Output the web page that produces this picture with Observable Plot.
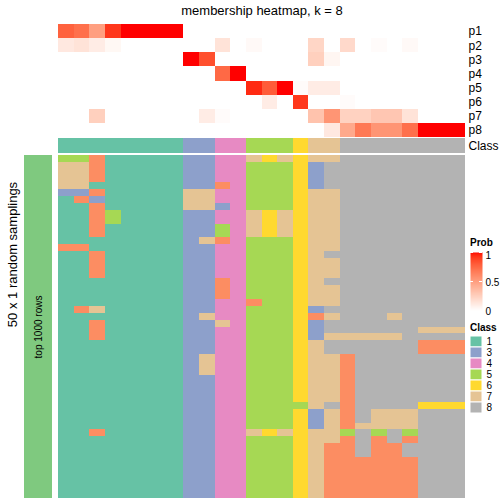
<!DOCTYPE html>
<html>
<head>
<meta charset="utf-8">
<script src="https://cdn.jsdelivr.net/npm/d3@7"></script>
<script src="https://cdn.jsdelivr.net/npm/@observablehq/plot@0.6"></script>
<style>
html, body { margin: 0; padding: 0; background: #ffffff; }
#root { position: relative; width: 504px; height: 504px; overflow: hidden; }
#root > svg { position: absolute; left: 0; top: 0; }
</style>
</head>
<body>
<div id="root"></div>
<script>
const FONT = '"Liberation Sans", Arial, Helvetica, sans-serif';

// ---------- data ----------
const titleText = "membership heatmap, k = 8";
const sideTitle = "50 x 1 random samplings";
const groupLabel = "top 1000 rows";
const columns = d3.range(26);
const columnClass = [1,1,1,1,1,1,1,1, 3,3, 4,4, 5,5,5, 6, 7,7, 8,8,8,8,8,8,8,8];
const probLabels = ["p1","p2","p3","p4","p5","p6","p7","p8"];
const p1 = [0.78,0.72,0.5,0.92,1,1,1,1, 0,0, 0,0, 0,0,0, 0, 0,0, 0,0,0,0,0,0,0,0];
const p2 = [0.12,0.15,0.1,0.04,0,0,0,0, 0,0, 0.15,0, 0.03,0,0, 0, 0.22,0, 0.2,0,0.02,0,0.03,0,0,0];
const p3 = [0,0,0,0,0,0,0,0, 1,0.85, 0,0, 0,0,0, 0, 0.25,0.05, 0,0,0,0,0,0,0,0];
const p4 = [0,0,0,0,0,0,0,0, 0,0, 0.75,1, 0,0,0, 0, 0,0, 0,0,0,0,0,0,0,0];
const p5 = [0,0,0,0,0,0,0,0, 0,0, 0,0, 0.95,0.8,1, 0.02, 0.1,0.1, 0,0,0,0,0,0,0,0];
const p6 = [0,0,0,0,0,0,0,0, 0,0, 0,0, 0,0.1,0, 0.92, 0,0, 0.02,0,0,0,0,0,0,0];
const p7 = [0,0,0.25,0,0,0,0,0, 0,0.1, 0.02,0, 0,0,0, 0, 0.32,0.55, 0.24,0.24,0.3,0.3,0.15,0,0,0];
const p8 = [0,0,0,0,0,0,0,0, 0,0, 0,0, 0,0,0, 0, 0,0.12, 0.45,0.68,0.55,0.55,0.72,1,1,1];
const probSeries = [p1,p2,p3,p4,p5,p6,p7,p8];
const samplingRows = [
  "55211111 33 44 767 6 77 88888888",
  "77211111 33 44 555 6 38 88888888",
  "77211111 33 44 555 6 38 88888888",
  "77211111 33 44 555 6 38 88888888",
  "77111111 33 24 555 6 38 88888888",
  "33211111 77 44 555 6 77 88888888",
  "12311111 77 44 555 6 77 88888888",
  "11211111 77 34 555 6 77 88888888",
  "11251111 33 44 767 6 77 88888888",
  "11251111 33 44 767 6 77 88888888",
  "11211111 33 54 767 6 77 88888888",
  "11211111 33 54 767 6 77 88888888",
  "11111111 37 24 555 6 77 88888888",
  "22111111 33 44 555 6 77 88888888",
  "11211111 33 44 555 6 78 88888888",
  "11211111 33 44 555 6 77 88888888",
  "11211111 33 44 555 6 77 88888888",
  "11211111 33 44 555 6 77 88888888",
  "11111111 33 24 555 6 78 88888888",
  "11111111 33 24 555 6 77 88888888",
  "11111111 33 24 555 6 77 88888888",
  "11111111 33 44 255 6 77 88888888",
  "12711111 33 44 555 6 38 88888888",
  "11111111 37 44 555 6 27 88878888",
  "11211111 33 74 555 6 38 88888888",
  "11211111 33 44 555 6 38 88888777",
  "11211111 33 44 555 6 37 77778888",
  "11111111 33 44 555 6 78 88888222",
  "11111111 33 44 555 6 78 88888222",
  "11111111 37 44 555 6 77 28888888",
  "11111111 37 44 555 6 77 28888888",
  "11111111 37 44 555 6 77 28888888",
  "11111111 33 44 555 6 77 28888888",
  "11111111 33 44 555 6 77 28888888",
  "11111111 33 44 555 6 77 28888888",
  "11111111 33 44 555 6 77 28888888",
  "11111111 33 44 555 5 78 28888666",
  "11111111 33 44 555 6 37 28777888",
  "11111111 33 44 555 6 37 28777888",
  "11111111 33 44 555 6 37 27777888",
  "11211111 33 44 767 6 77 58585888",
  "11111111 33 44 555 6 77 28282888",
  "11111111 33 44 555 6 72 28228888",
  "11111111 33 44 555 6 72 28228888",
  "11111111 33 44 555 6 72 22222888",
  "11111111 33 44 555 6 72 22222888",
  "11111111 33 44 555 6 72 22222888",
  "11111111 33 44 555 6 72 22222888",
  "11111111 33 44 555 6 72 22222888",
  "11111111 33 44 555 6 72 22222888"
];
const classLevels = ["1","2","3","4","5","6","7","8"];
const classColors = ["#66C2A5","#FC8D62","#8DA0CB","#E78AC3","#A6D854","#FFD92F","#E5C494","#B3B3B3"];
const legendClasses = ["1","3","4","5","6","7","8"];
const probTicks = [0, 0.5, 1];
const groupColor = "#7FC97F";

// ---------- helpers ----------
const root = document.getElementById("root");
const baseStyle = (size) => ({background: "transparent", fontFamily: FONT, fontSize: size, color: "black", overflow: "visible"});
const xCols = {type: "band", domain: columns, padding: 0, round: false, axis: null};
const probColor = {type: "linear", domain: [0, 1], range: ["#ffffff", "#ff0000"], interpolate: "lab"};
const classColor = {type: "ordinal", domain: classLevels, range: classColors};
function add(node) { root.appendChild(node); }

// ---------- top probability heatmap ----------
const topData = probLabels.flatMap((p, i) => probSeries[i].map((v, c) => ({row: p, col: c, value: v})));
add(Plot.plot({
  width: 504, height: 138,
  marginLeft: 58, marginRight: 39, marginTop: 24, marginBottom: 1,
  style: baseStyle("12px"),
  x: xCols,
  y: {type: "band", domain: probLabels, padding: 0, round: false, axis: "right", tickSize: 0, tickPadding: 3, label: null},
  color: probColor,
  marks: [Plot.cell(topData, {x: "col", y: "row", fill: "value", inset: 0, shapeRendering: "crispEdges"})]
}));

// ---------- class annotation row ----------
add(Plot.plot({
  width: 504, height: 153,
  marginLeft: 58, marginRight: 39, marginTop: 138, marginBottom: 0,
  style: baseStyle("12px"),
  x: xCols,
  y: {type: "band", domain: ["Class"], padding: 0, round: false, axis: "right", tickSize: 0, tickPadding: 3, label: null},
  color: classColor,
  marks: [Plot.cell(columns, {x: (c) => c, y: () => "Class", fill: (c) => String(columnClass[c]), inset: 0, shapeRendering: "crispEdges"})]
}));

// ---------- sampling heatmap ----------
const cellData = samplingRows.flatMap((s, r) =>
  Array.from(s.replace(/ /g, ""), (ch, c) => ({row: r, col: c, cls: ch})));
add(Plot.plot({
  width: 504, height: 504,
  marginLeft: 58, marginRight: 39, marginTop: 155, marginBottom: 6,
  style: baseStyle("10px"),
  x: xCols,
  y: {type: "band", domain: d3.range(samplingRows.length), padding: 0, round: false, axis: null},
  color: classColor,
  marks: [Plot.cell(cellData, {x: "col", y: "row", fill: "cls", inset: 0, shapeRendering: "crispEdges"})]
}));

// ---------- left group annotation ----------
add(Plot.plot({
  width: 52, height: 504,
  marginLeft: 24, marginRight: 0, marginTop: 155, marginBottom: 6,
  style: baseStyle("10px"),
  x: {type: "band", domain: ["g"], padding: 0, round: false, axis: null},
  y: {type: "band", domain: [groupLabel], padding: 0, round: false, axis: null},
  marks: [
    Plot.cell([groupLabel], {x: () => "g", y: (d) => d, fill: groupColor, inset: 0}),
    Plot.text([groupLabel], {x: () => "g", y: (d) => d, text: (d) => d, rotate: -90, fontSize: 10, fill: "black"})
  ]
}));

// ---------- Prob legend ----------
add(Plot.plot({
  width: 504, height: 504,
  marginLeft: 470, marginRight: 22, marginTop: 252, marginBottom: 194,
  style: baseStyle("10px"),
  x: {type: "linear", domain: [0, 1], axis: null},
  y: {type: "linear", domain: [0, 1], axis: null},
  color: probColor,
  marks: [
    Plot.raster({x1: 0, x2: 1, y1: 0, y2: 1, width: 2, height: 80, fill: (x, y) => y}),
    Plot.tickY(probTicks.filter((t) => t > 0), {stroke: "white", strokeWidth: 1, insetRight: 9}),
    Plot.tickY(probTicks.filter((t) => t > 0), {stroke: "white", strokeWidth: 1, insetLeft: 9}),
    Plot.text(probTicks.filter((t) => t === 1), {y: (d) => d, frameAnchor: "right", dx: 3, dy: 3, textAnchor: "start", text: (d) => String(d), fill: "black"}),
    Plot.text(probTicks.filter((t) => t < 1), {y: (d) => d, frameAnchor: "right", dx: 3, dy: 1, textAnchor: "start", text: (d) => String(d), fill: "black"})
  ]
}));

// ---------- Class legend ----------
add(Plot.plot({
  width: 504, height: 504,
  marginLeft: 470, marginRight: 22, marginTop: 336, marginBottom: 91,
  style: baseStyle("10px"),
  x: {type: "band", domain: ["s"], padding: 0, round: false, axis: null},
  y: {type: "band", domain: legendClasses, padding: 0, round: false, axis: "right", tickSize: 0, tickPadding: 4, label: null},
  color: classColor,
  marks: [Plot.cell(legendClasses, {x: () => "s", y: (d) => d, fill: (d) => d, stroke: "white", strokeWidth: 1, inset: 0})]
}));

// ---------- titles ----------
const ov = d3.select(root).append("svg")
  .attr("width", 504).attr("height", 504)
  .style("font-family", FONT);
ov.append("text").attr("x", 262).attr("y", 15).attr("text-anchor", "middle")
  .attr("font-size", 13).attr("fill", "black").text(titleText);
ov.append("text").attr("transform", "translate(17.3,254.5) rotate(-90)").attr("text-anchor", "middle")
  .attr("font-size", 13).attr("fill", "black").text(sideTitle);
ov.append("text").attr("x", 470).attr("y", 246).attr("font-size", 10).attr("font-weight", "bold")
  .attr("fill", "black").text("Prob");
ov.append("text").attr("x", 470).attr("y", 331).attr("font-size", 10).attr("font-weight", "bold")
  .attr("fill", "black").text("Class");
</script>
</body>
</html>
